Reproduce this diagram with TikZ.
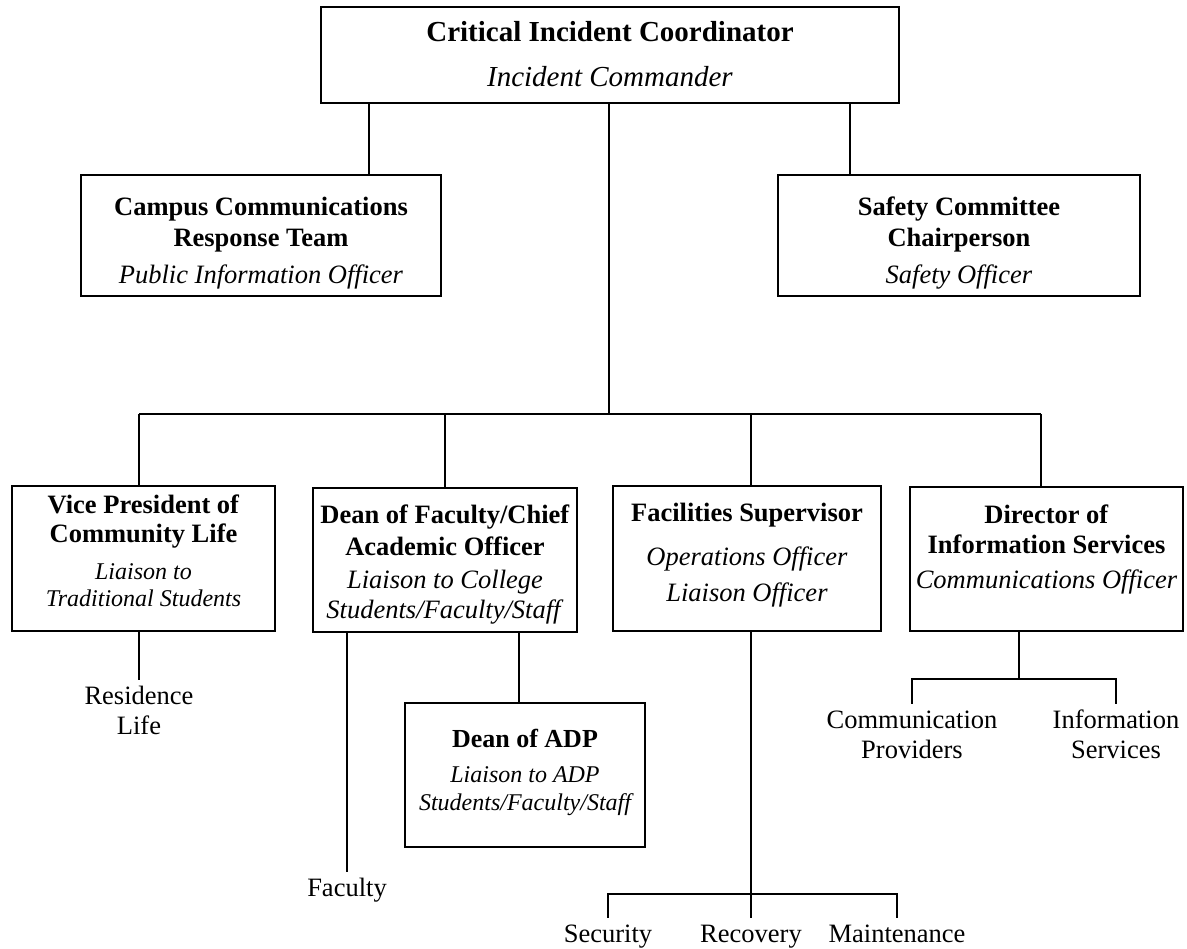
\documentclass[tikz,border=0pt]{standalone}
\usepackage{fontspec}
\setmainfont{Liberation Serif}
\newcommand{\smit}[1]{{\fontsize{24}{27}\selectfont\itshape #1}}
\newcommand{\bx}[4]{\parbox[c][#2][t]{#1}{\centering\rule{0pt}{#3}#4}}
\newcommand{\st}{\rule{0pt}{25pt}}
\begin{document}
\begin{tikzpicture}[x=1pt,y=-1pt,
  box/.style={draw, line width=1.8pt, inner sep=0pt,
    font=\fontsize{26.5}{30}\selectfont},
  lab/.style={anchor=north, align=center, inner sep=0pt, font=\fontsize{26.5}{30}\selectfont},
  conn/.style={line width=1.8pt}]
\useasboundingbox (0,0) rectangle (1187,949);
% boxes
\node[box, font=\fontsize{29}{34}\selectfont] (ic) at (610,55)
  {\bx{578pt}{96pt}{34.3pt}{\textbf{Critical Incident Coordinator}\\[11pt]\textit{Incident Commander}}};
\node[box, font=\fontsize{26.5}{31}\selectfont] (cc) at (261,235.5)
  {\bx{360pt}{121pt}{40.5pt}{\textbf{Campus Communications}\\\textbf{Response Team}\\[6pt]\textit{Public Information Officer}}};
\node[box, font=\fontsize{26.5}{31}\selectfont] (sc) at (959,235.5)
  {\bx{362pt}{121pt}{40.5pt}{\textbf{Safety Committee}\\\textbf{Chairperson}\\[6pt]\textit{Safety Officer}}};
\node[box, font=\fontsize{26.5}{29}\selectfont] (vp) at (143.5,558.5)
  {\bx{263pt}{145pt}{27.5pt}{\textbf{Vice President of}\\\textbf{Community Life}\\[8.2pt]\smit{Liaison to}\\[-2pt]\smit{Traditional Students}}};
\node[box, font=\fontsize{26.5}{31.5}\selectfont] (df) at (445,560)
  {\bx{264pt}{144pt}{35.5pt}{\textbf{Dean of Faculty/Chief}\\\textbf{Academic Officer}\\[1.5pt]\textit{Liaison to College}\\[-1.5pt]\textit{Students/Faculty/Staff}}};
\node[box] (fs) at (747,558.5)
  {\bx{268pt}{145pt}{35.5pt}{\textbf{Facilities Supervisor}\\[14pt]\textit{Operations Officer}\\[6pt]\textit{Liaison Officer}}};
\node[box] (di) at (1046.5,559)
  {\bx{273pt}{144pt}{36.5pt}{\textbf{Director of}\\\textbf{Information Services}\\[5pt]\textit{Communications Officer}}};
\node[box, font=\fontsize{26}{28}\selectfont] (adp) at (525,775)
  {\bx{240pt}{144pt}{44.5pt}{\textbf{Dean of ADP}\\[7.2pt]\smit{Liaison to ADP}\\\smit{Students/Faculty/Staff}}};
% labels (north = first baseline - 25pt)
\node[lab] (res) at (139,679.5) {\st Residence\\Life};
\node[lab] (fac) at (347,871.5) {\st Faculty};
\node[lab] (sec) at (608,917.5) {\st Security};
\node[lab] (rec) at (751,917.5) {\st Recovery};
\node[lab] (mnt) at (897,917.5) {\st Maintenance};
\node[lab] (cp) at (912,703.5) {\st Communication\\Providers};
\node[lab] (is) at (1116,703.5) {\st Information\\Services};
% junctions
\coordinate (jcc) at (369,0);
\coordinate (jsc) at (850,0);
\coordinate (busC) at (609,414);
\coordinate (dVP) at (139,414);
\coordinate (dDF) at (445,414);
\coordinate (dFS) at (751,414);
\coordinate (dDI) at (1041,414);
\coordinate (jadp) at (519,0);
\coordinate (fb) at (751,894);
\coordinate (db) at (1019,679);
% connectors
\draw[conn] (ic.south -| jcc) -- (cc.north -| jcc);
\draw[conn] (ic.south -| jsc) -- (sc.north -| jsc);
\draw[conn] (ic.south -| busC) -- (busC);
\draw[conn] (dVP) -- (dDI);
\draw[conn] (dVP) -- (vp.north -| dVP);
\draw[conn] (dDF) -- (df.north -| dDF);
\draw[conn] (dFS) -- (fs.north -| dFS);
\draw[conn] (dDI) -- (di.north -| dDI);
\draw[conn] (vp.south -| res.north) -- (res.north);
\draw[conn] (df.south -| fac.north) -- (fac.north);
\draw[conn] (df.south -| jadp) -- (adp.north -| jadp);
\draw[conn] (fs.south -| fb) -- (rec.north);
\draw[conn] (sec.north) -- (sec.north |- fb) -- (mnt.north |- fb) -- (mnt.north);
\draw[conn] (di.south -| db) -- (db);
\draw[conn] (cp.north) -- (cp.north |- db) -- (is.north |- db) -- (is.north);
\end{tikzpicture}
\end{document}
